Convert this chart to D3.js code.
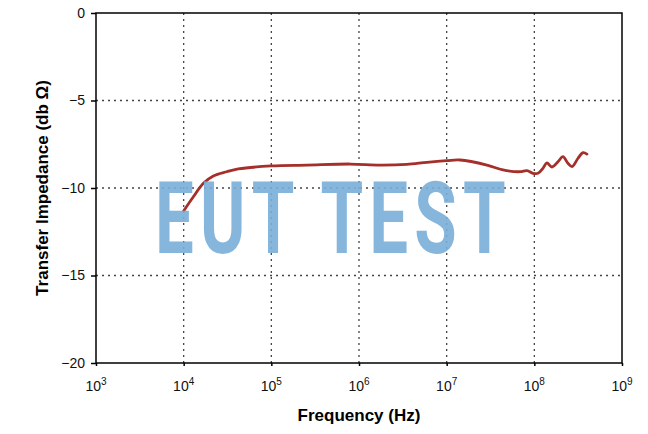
<!DOCTYPE html>
<html>
<head>
<meta charset="utf-8">
<script src="https://cdn.jsdelivr.net/npm/d3@7"></script>
<style>
  body { margin: 0; background: #fff; }
  text { font-family: "Liberation Sans", Arial, sans-serif; }
</style>
</head>
<body>
<svg width="648" height="434"></svg>
<script>
// curve: frequency (Hz) and transfer impedance (dB ohm)
var freq = [1.0e4, 1.29e4, 1.68e4, 2.18e4, 3.1e4, 4.2e4, 1.0e5, 2.55e5, 7.9e5, 1.73e6,
            3.5e6, 5.96e6, 1.0e7, 1.42e7, 2.88e7, 4.39e7, 6.86e7, 8.24e7, 9.65e7, 1.10e8,
            1.26e8, 1.39e8, 1.59e8, 1.86e8, 2.12e8, 2.42e8, 2.69e8, 3.15e8, 3.59e8, 3.98e8];
var impedance = [-11.31, -10.50, -9.73, -9.31, -9.07, -8.91, -8.74, -8.69, -8.63, -8.69,
                 -8.65, -8.53, -8.44, -8.40, -8.69, -8.97, -9.07, -9.01, -9.16, -9.16,
                 -8.86, -8.57, -8.80, -8.50, -8.21, -8.59, -8.78, -8.30, -7.98, -8.06];
var xTickExp = [3, 4, 5, 6, 7, 8, 9];
var yTicks = [0, -5, -10, -15, -20];

var svg = d3.select("svg"),
    margin = {top: 13, right: 26, bottom: 71, left: 96},
    width = +svg.attr("width") - margin.left - margin.right,
    height = +svg.attr("height") - margin.top - margin.bottom;

var x = d3.scaleLog().domain([1e3, 1e9]).range([0, width]),
    y = d3.scaleLinear().domain([-20, 0]).range([height, 0]);

var data = freq.map(function(f, i) { return {f: f, v: impedance[i]}; });

var g = svg.append("g")
    .attr("transform", "translate(" + margin.left + "," + margin.top + ")");

// dotted grid
g.selectAll(".vgrid")
  .data(xTickExp.slice(1, -1))
  .enter().append("line")
    .attr("x1", function(d) { return x(Math.pow(10, d)); })
    .attr("x2", function(d) { return x(Math.pow(10, d)); })
    .attr("y1", 0).attr("y2", height)
    .style("stroke", "#444")
    .style("stroke-width", "1.3px")
    .style("stroke-dasharray", "2,4");

g.selectAll(".hgrid")
  .data(yTicks.slice(1, -1))
  .enter().append("line")
    .attr("x1", 0).attr("x2", width)
    .attr("y1", function(d) { return y(d); })
    .attr("y2", function(d) { return y(d); })
    .style("stroke", "#444")
    .style("stroke-width", "1.3px")
    .style("stroke-dasharray", "2,4");

// the curve
var line = d3.line()
    .x(function(d) { return x(d.f); })
    .y(function(d) { return y(d.v); })
    .curve(d3.curveCatmullRom);

g.append("path")
    .datum(data)
    .attr("d", line)
    .style("fill", "none")
    .style("stroke", "#a52f2a")
    .style("stroke-width", "2.8px")
    .style("stroke-linejoin", "round")
    .style("stroke-linecap", "round");

// watermark
g.append("text")
    .attr("x", 155 - margin.left)
    .attr("y", 253 - margin.top)
    .attr("textLength", 357)
    .attr("lengthAdjust", "spacingAndGlyphs")
    .style("font-family", "Roboto, sans-serif")
    .style("font-weight", "bold")
    .style("letter-spacing", "9px")
    .style("font-size", "100px")
    .style("fill", "#7aafd9")
    .style("opacity", 0.9)
    .text("EUT TEST");

// frame
g.append("rect")
    .attr("width", width).attr("height", height)
    .style("fill", "none")
    .style("stroke", "#000")
    .style("stroke-width", "1.5px");

// y axis
var yAxis = g.append("g")
    .call(d3.axisLeft(y).tickValues(yTicks).tickSize(5).tickFormat(d3.format("d")));
yAxis.select(".domain").remove();
yAxis.selectAll("line").style("stroke-width", "1.5px");
yAxis.selectAll("text")
    .style("font-size", "14px")
    .style("fill", "#111")
    .attr("x", -11);

// x axis
var xAxis = g.append("g")
    .attr("transform", "translate(0," + height + ")")
    .call(d3.axisBottom(x).tickValues(xTickExp.map(function(e) { return Math.pow(10, e); }))
      .tickSize(3).tickFormat(""));
xAxis.select(".domain").remove();
xAxis.selectAll("line").style("stroke-width", "1.5px");

var lab = g.selectAll(".xlab")
  .data(xTickExp)
  .enter().append("text")
    .attr("x", function(d) { return x(Math.pow(10, d)); })
    .attr("y", height + 28)
    .attr("text-anchor", "middle")
    .style("font-size", "14px")
    .style("fill", "#111");
lab.append("tspan").text("10");
lab.append("tspan")
    .attr("dy", -6)
    .style("font-size", "10px")
    .text(function(d) { return d; });

// axis titles
svg.append("text")
    .attr("x", margin.left + width / 2)
    .attr("y", 421)
    .attr("text-anchor", "middle")
    .style("font-size", "17px")
    .style("font-weight", "bold")
    .text("Frequency (Hz)");

svg.append("text")
    .attr("transform", "translate(48," + (margin.top + height / 2) + ") rotate(-90)")
    .attr("text-anchor", "middle")
    .style("font-size", "17px")
    .style("font-weight", "bold")
    .text("Transfer Impedance (db \u03a9)");
</script>
</body>
</html>
